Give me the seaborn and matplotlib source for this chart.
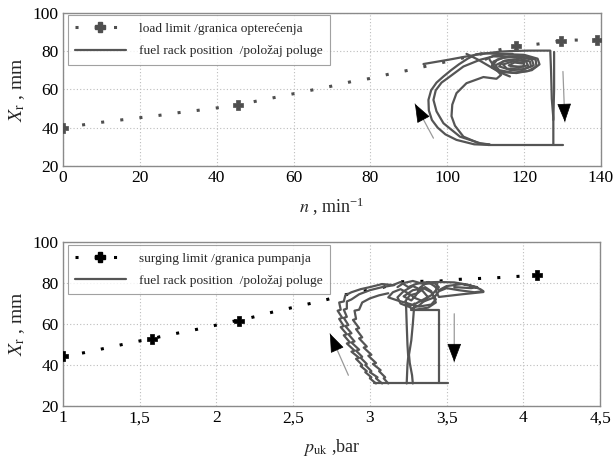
import numpy as np
import pandas as pd
import matplotlib
matplotlib.use("Agg")
import matplotlib.pyplot as plt
from matplotlib.lines import Line2D
import seaborn as sns

# ---------------- data: top panel (speed n) ----------------
LOAD_N = [0, 5, 10, 15, 20, 25, 30, 35, 40, 45.5, 50, 55, 60, 65, 70, 75, 80, 85, 90, 95,
          118, 123.5, 129.6, 133.2, 139]
LOAD_X = [40, 41.4, 42.8, 44, 45.2, 46.4, 47.8, 49, 50.3, 51.7, 53.7, 55.7, 57.7, 59.7, 61.7,
          64, 65.7, 68, 70, 72.3, 82.6, 83.6, 85.4, 85.7, 85.7]
LOAD_PLUS_N = [0, 45.5, 118, 129.6, 139]
LOAD_PLUS_X = [40, 51.7, 82.6, 85.4, 85.7]

TOP_MAIN_N = [93.8, 97, 100.5, 104, 107.5, 111, 114, 117, 121, 124, 126.8, 127.0, 127.2, 127.6, 127.6]
TOP_MAIN_X = [73.2, 74.3, 75.5, 76.8, 78.0, 79.0, 79.7, 80.0, 80.2, 80.2, 80.2, 70, 55, 45, 31]
TOP_VERT2_N = [127.8, 127.8, 127.6]
TOP_VERT2_X = [79.5, 60, 44]
TOP_BASE_N = [110.5, 130]
TOP_BASE_X = [31, 31]
TOP_OUTER_N = [110.5, 107, 102.4, 99.5, 97.5, 96, 95.2, 95.1, 95.8, 97.2, 99, 101, 103, 105.3, 107.5,
               110, 113, 117]
TOP_OUTER_X = [31.0, 31.3, 33.6, 36.5, 40, 44, 49, 54.5, 59.5, 63.5, 66.7, 70, 73, 76, 78.3,
               78.8, 78.5, 78.5]
TOP_MID_N = [111, 108.5, 103.3, 99, 97.2, 96.4, 97, 98.5, 100.7, 104.2, 108.5, 112, 115, 119]
TOP_MID_X = [31.2, 31.9, 35.3, 42.3, 48.5, 54.5, 59.5, 63.5, 66.7, 71.9, 75.4, 77.2, 77, 77]
TOP_INNER_N = [111, 108.5, 104.2, 102, 101.1, 101.3, 102.4, 105, 109.4, 112.8, 114, 112.5, 111]
TOP_INNER_X = [31.2, 31.6, 35.3, 41, 46, 52, 58, 63.2, 66.4, 65.5, 67.5, 71, 75.5]
TOP_FAN_N = [105, 108, 111, 113.5, 116.3]
TOP_FAN_X = [78.5, 75.5, 72, 69, 66.7]
TOP_LOOP_N = [110, 112, 116, 120, 123.5, 124, 122, 118, 114, 111.5, 112, 114.5, 118.5, 122, 122.5,
              120, 116.5, 113.5, 114.5, 117.5, 120.5, 121, 118.5, 116, 117.5, 119.5]
TOP_LOOP_X = [75.5, 77.5, 78.3, 78, 76, 73, 70, 68.5, 69, 71.5, 74.5, 76.5, 77, 75.5, 72.5,
              70.5, 70, 72, 74.5, 75.5, 74.5, 72.5, 71.5, 72.5, 74, 73.5]
TOP_LOOP2_N = [112, 113, 116, 120, 123, 123.2, 121, 117, 113.5, 112.5, 115, 119, 121.5, 121.8,
               119.5, 115.5, 114.5, 117, 120, 119.8, 116.5]
TOP_LOOP2_X = [73, 75.5, 77.2, 77.3, 75.5, 72, 69.5, 68.7, 70, 72.5, 75, 76, 74.5, 72, 70.3,
               70.8, 73, 74.5, 73.8, 71.8, 72]

# ---------------- data: bottom panel (pressure p_uk) ----------------
SURGE_P = [1.0, 1.137, 1.263, 1.387, 1.51, 1.58, 1.626, 1.75, 1.872, 1.995, 2.12, 2.15, 2.24,
           2.36, 2.482, 2.605, 2.723, 2.843, 3.09, 3.2, 3.458, 3.583, 3.707, 3.83, 3.957, 4.09]
SURGE_X = [44.2, 46, 48, 50, 51.9, 52.6, 53.7, 55.6, 57.4, 59.4, 61.5, 61.7, 63.4, 65.7, 67.8,
           69.9, 72, 74.3, 78, 80.6, 81, 81.8, 82.2, 82.6, 83.2, 83.8]
SURGE_PLUS_P = [1.0, 1.58, 2.15, 4.09]
SURGE_PLUS_X = [44.2, 52.6, 61.7, 83.8]

BOT_BASE_P = [3.03, 3.51]
BOT_BASE_X = [31, 31]
BOT_RIGHT_P = [3.27, 3.448, 3.448, 3.448]
BOT_RIGHT_X = [66.7, 66.7, 50, 31]
BOT_V1_P = [3.235, 3.24, 3.245, 3.25, 3.245, 3.24]
BOT_V1_X = [71, 60, 50, 44, 40, 31]
BOT_V2_P = [3.29, 3.28, 3.27, 3.255, 3.26, 3.275, 3.28]
BOT_V2_X = [70, 60, 52, 45, 41, 35, 31]
BOT_A_P = [3.04, 3.0, 3.01, 2.97, 2.98, 2.94, 2.95, 2.91, 2.93, 2.88, 2.90, 2.85, 2.87, 2.83, 2.85,
           2.81, 2.83, 2.80, 2.82, 2.79, 2.81, 2.80, 2.83, 2.84, 2.88, 2.94, 3.0, 3.08]
BOT_A_X = [31, 33.5, 34, 36.5, 37, 39.5, 40, 43, 43.5, 46.5, 47, 50.5, 51, 54.5, 55, 58.5, 59,
           62.5, 63, 66.5, 67, 70.5, 71, 74, 75.5, 77, 78, 79.5]
BOT_B_P = [3.08, 3.04, 3.05, 3.0, 3.01, 2.97, 2.98, 2.94, 2.95, 2.91, 2.93, 2.88, 2.90, 2.86,
           2.88, 2.84, 2.86, 2.83, 2.85, 2.83, 2.85, 2.85, 2.88, 2.93, 3.0, 3.08, 3.16]
BOT_B_X = [31, 33.5, 34, 36.5, 37, 40, 40.5, 43.5, 44, 47, 47.5, 51, 51.5, 55, 55.5, 59, 59.5,
           63, 63.5, 67, 67.5, 71, 72, 74.5, 76.5, 78, 79]
BOT_C_P = [3.12, 3.09, 3.10, 3.06, 3.07, 3.02, 3.04, 2.99, 3.01, 2.96, 2.98, 2.93, 2.95, 2.91,
           2.93, 2.89, 2.91, 2.90, 2.93, 2.95, 3.0, 3.06, 3.12]
BOT_C_X = [31, 33.5, 34, 37, 37.5, 40.5, 41, 44.5, 45, 48.5, 49, 53, 53.5, 57.5, 58, 62, 62.5,
           66.5, 67, 70.5, 72.5, 74, 75]
BOT_LOOP_P = [3.08, 3.15, 3.2, 3.25, 3.3, 3.35, 3.45, 3.55, 3.65, 3.72, 3.74, 3.68, 3.58, 3.5,
              3.45, 3.42, 3.35, 3.3, 3.25, 3.2, 3.15, 3.12, 3.18, 3.25, 3.32, 3.4, 3.43, 3.4,
              3.35, 3.28, 3.22, 3.27, 3.3, 3.33, 3.38, 3.42, 3.45, 3.5, 3.6, 3.7, 3.66, 3.55]
BOT_LOOP_X = [79.5, 79, 80.5, 78, 79.5, 80.3, 80.5, 80.3, 79, 77, 76, 75.5, 76.5, 77.5, 76, 73,
              71, 72.5, 75, 77, 75.5, 73, 71.5, 70, 68.5, 69.5, 72, 75.5, 77.5, 76.5, 73.5,
              71.5, 74, 78, 80.5, 78.5, 76.5, 78.5, 79.5, 78, 77.5, 78]
BOT_LOOP2_P = [3.18, 3.22, 3.28, 3.35, 3.42, 3.45, 3.4, 3.35, 3.3, 3.25, 3.2, 3.18, 3.22, 3.28,
               3.34, 3.38, 3.32, 3.27, 3.23, 3.26, 3.31, 3.36, 3.4, 3.43, 3.38, 3.3]
BOT_LOOP2_X = [78, 80, 81, 79.5, 80, 78, 74, 72, 70, 68.5, 70, 73, 76, 78.5, 76.5, 73, 69, 67.5,
               71, 74, 75, 78, 76, 70.5, 68, 67]
BOT_LOBE_P = [3.74, 3.6, 3.45, 3.43, 3.44]
BOT_LOBE_X = [75.6, 74.5, 73.2, 76, 80]

# arrow positions (shaft start, tip)
TOP_ARROWS = [((130.1, 69.3), (130.6, 43.0)), ((96.4, 34.5), (91.6, 52.4))]
BOT_ARROWS = [((3.55, 65.0), (3.55, 41.5)), ((2.86, 35.0), (2.74, 55.3))]

TRAJ_COLOR = "#555555"

sns.set_theme(style="whitegrid")
plt.rcParams["font.family"] = ["Liberation Serif", "DejaVu Serif"]
plt.rcParams["mathtext.fontset"] = "stix"


def traj_frame(segments):
    rows = []
    for k, (xs, ys) in enumerate(segments):
        for i, (a, b) in enumerate(zip(xs, ys)):
            rows.append({"seg": k, "order": i, "x": a, "y": b})
    return pd.DataFrame(rows)


def style_axes(ax, xlim, xticks, xticklabels):
    ax.set_xlim(*xlim)
    ax.set_ylim(20, 100)
    ax.set_xticks(xticks)
    ax.set_xticklabels(xticklabels)
    ax.set_yticks([20, 40, 60, 80, 100])
    ax.set_facecolor("white")
    ax.grid(True, linestyle=(0, (1, 2)), color="#bdbdbd", linewidth=0.8)
    for s in ax.spines.values():
        s.set_visible(True)
        s.set_color("#8a8a8a")
        s.set_linewidth(1.0)
    ax.tick_params(axis="both", labelsize=12.5, direction="in", length=3,
                   color="#8a8a8a", pad=3, labelcolor="black")


def draw_arrows(ax, arrows):
    for start, tip in arrows:
        ax.annotate("", xy=tip, xytext=start,
                    arrowprops=dict(arrowstyle="-", color="#9a9a9a", lw=0.9,
                                    shrinkA=0, shrinkB=0))
        dx = tip[0] - start[0]
        dy = tip[1] - start[1]
        ax.annotate("", xy=tip, xytext=(tip[0] - dx * 0.05, tip[1] - dy * 0.05),
                    arrowprops=dict(arrowstyle="-|>,head_length=1.0,head_width=0.38",
                                    mutation_scale=12, color="black", lw=0.5,
                                    shrinkA=0, shrinkB=0))


def limit_line(ax, xs, ys, pxs, pys, color):
    ax.plot(xs, ys, linestyle=(0, (1, 5.3)), linewidth=2.2, color=color,
            dash_capstyle="butt", zorder=3)
    sns.scatterplot(x=pxs, y=pys, marker="P", s=48, color=color, edgecolor=color,
                    linewidth=0.5, ax=ax, zorder=4, legend=False)


def add_legend(ax, color, label1):
    handles = [Line2D([], [], linestyle=(0, (1, 5.3)), linewidth=2.2, color=color,
                      marker="P", markersize=7, dash_capstyle="butt"),
               Line2D([], [], color=TRAJ_COLOR, linewidth=1.6)]
    leg = ax.legend(handles, [label1, "fuel rack position  /položaj poluge"],
                    loc="upper left", bbox_to_anchor=(0.005, 0.995), fontsize=9.6,
                    handlelength=3.8, handletextpad=1.0, frameon=True, fancybox=False,
                    borderaxespad=0.15, labelspacing=0.75, borderpad=0.55)
    leg.get_frame().set_edgecolor("#8a8a8a")
    leg.get_frame().set_linewidth(0.8)


fig = plt.figure(figsize=(6.13, 4.61), dpi=100)
ax1 = fig.add_axes([0.1028, 0.640, 0.8776, 0.3325])
ax2 = fig.add_axes([0.1028, 0.1193, 0.8760, 0.3557])

# ---------- top ----------
style_axes(ax1, (0, 140), [0, 20, 40, 60, 80, 100, 120, 140],
           ["0", "20", "40", "60", "80", "100", "120", "140"])
limit_line(ax1, LOAD_N, LOAD_X, LOAD_PLUS_N, LOAD_PLUS_X, "#4f4f4f")
top_df = traj_frame([(TOP_MAIN_N, TOP_MAIN_X), (TOP_VERT2_N, TOP_VERT2_X),
                     (TOP_BASE_N, TOP_BASE_X), (TOP_OUTER_N, TOP_OUTER_X),
                     (TOP_MID_N, TOP_MID_X), (TOP_INNER_N, TOP_INNER_X),
                     (TOP_FAN_N, TOP_FAN_X), (TOP_LOOP_N, TOP_LOOP_X),
                     (TOP_LOOP2_N, TOP_LOOP2_X)])
sns.lineplot(data=top_df, x="x", y="y", units="seg", estimator=None, sort=False,
             color=TRAJ_COLOR, linewidth=1.6, ax=ax1, zorder=5)
draw_arrows(ax1, TOP_ARROWS)
ax1.set_xlabel("$n$ , min$^{\\mathregular{-1}}$", fontsize=13, labelpad=7)
ax1.set_ylabel("$X_{\\mathrm{r}}$ , mm", fontsize=14, labelpad=4)
add_legend(ax1, "#4f4f4f", "load limit /granica opterećenja")

# ---------- bottom ----------
style_axes(ax2, (1, 4.5), [1, 1.5, 2, 2.5, 3, 3.5, 4, 4.5],
           ["1", "1,5", "2", "2,5", "3", "3,5", "4", "4,5"])
limit_line(ax2, SURGE_P, SURGE_X, SURGE_PLUS_P, SURGE_PLUS_X, "black")
bot_df = traj_frame([(BOT_BASE_P, BOT_BASE_X), (BOT_RIGHT_P, BOT_RIGHT_X),
                     (BOT_V1_P, BOT_V1_X), (BOT_V2_P, BOT_V2_X),
                     (BOT_A_P, BOT_A_X), (BOT_B_P, BOT_B_X), (BOT_C_P, BOT_C_X),
                     (BOT_LOOP_P, BOT_LOOP_X), (BOT_LOOP2_P, BOT_LOOP2_X),
                     (BOT_LOBE_P, BOT_LOBE_X)])
sns.lineplot(data=bot_df, x="x", y="y", units="seg", estimator=None, sort=False,
             color=TRAJ_COLOR, linewidth=1.6, ax=ax2, zorder=5)
draw_arrows(ax2, BOT_ARROWS)
ax2.set_xlabel("$p_{\\mathrm{uk}}$ ,bar", fontsize=13, labelpad=8)
ax2.set_ylabel("$X_{\\mathrm{r}}$ , mm", fontsize=14, labelpad=4)
add_legend(ax2, "black", "surging limit /granica pumpanja")

fig.patch.set_facecolor("white")
fig.savefig("out.png", dpi=100, facecolor="white")
